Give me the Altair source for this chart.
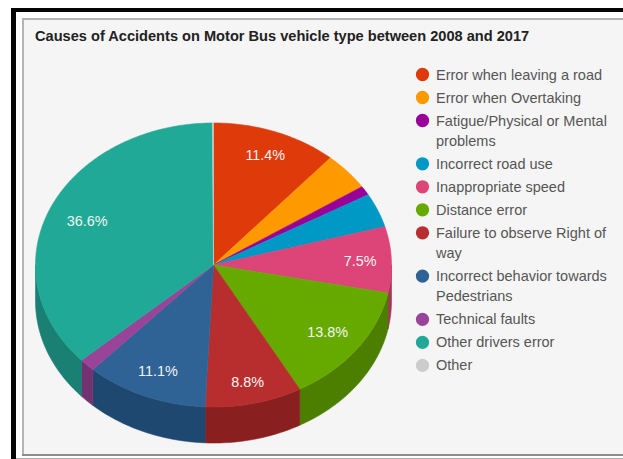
import numpy as np
import pandas as pd
import altair as alt

# Slice shares in percent, clockwise from twelve o'clock
causes = [
    "Error when leaving a road", "Error when Overtaking",
    "Fatigue/Physical or Mental problems", "Incorrect road use",
    "Inappropriate speed", "Distance error",
    "Failure to observe Right of way",
    "Incorrect behavior towards Pedestrians", "Technical faults",
    "Other drivers error", "Other",
]
shares = [11.4, 4.3, 1.05, 3.9, 7.5, 13.8, 8.8, 11.1, 1.45, 36.6, 0.1]
value_labels = ["11.4%", "", "", "", "7.5%", "13.8%", "8.8%", "11.1%", "", "36.6%", ""]
top_colors = ["#df3a0a", "#ff9900", "#990099", "#0099c6", "#dd4477", "#66aa00",
              "#b82e2e", "#2f6396", "#994499", "#20a996", "#cccccc"]
side_colors = ["#a52b0e", "#bf7300", "#730073", "#007394", "#a63359", "#4c7f00",
               "#8a1f1f", "#1f4870", "#733373", "#198073", "#999999"]
legend_lines = [
    ["Error when leaving a road"], ["Error when Overtaking"],
    ["Fatigue/Physical or Mental", "problems"], ["Incorrect road use"],
    ["Inappropriate speed"], ["Distance error"],
    ["Failure to observe Right of", "way"],
    ["Incorrect behavior towards", "Pedestrians"], ["Technical faults"],
    ["Other drivers error"], ["Other"],
]
title_text = "Causes of Accidents on Motor Bus vehicle type between 2008 and 2017"

W, H = 623, 459
CX, CY, RX, RY = 213.5, 265.0, 178.0, 142.0
DEPTH = 36.0 / RY          # pie thickness in unit-circle terms
# How far out each value label sits along its slice's mid-angle
LABEL_RADII = [0.83, 0, 0, 0, 0.825, 0.795, 0.845, 0.81, 0, 0.775, 0]
LEGEND_Y0, LINE_STEP, ROW_GAP = 74.5, 20.3, 23

# Unit-circle pie coordinates; the scales squash the circle into an ellipse
x_scale = alt.Scale(domain=[-CX / RX, (W - CX) / RX], range=[0, W], nice=False, zero=False)
y_scale = alt.Scale(domain=[CY / RY, (CY - H) / RY], range=[0, H], nice=False, zero=False)
X = alt.X("x:Q", scale=x_scale, axis=None)
Y = alt.Y("y:Q", scale=y_scale, axis=None)

edges = np.concatenate([[0], np.cumsum(shares)]) / sum(shares) * 2 * np.pi

top_rows, side_rows, label_rows = [], [], []
for i, cause in enumerate(causes):
    a0, a1 = edges[i], edges[i + 1]
    n = max(3, int((a1 - a0) * 60))
    angles = np.linspace(a0, a1, n)
    pts = [(0.0, 0.0)] + [(np.sin(a), np.cos(a)) for a in angles] + [(0.0, 0.0)]
    for k, (px, py) in enumerate(pts):
        top_rows.append({"slice": cause, "seq": k, "x": px, "y": py, "hex": top_colors[i]})

    # Rim is visible only on the front half of the pie
    f0, f1 = max(a0, np.pi / 2), min(a1, 3 * np.pi / 2)
    if f1 > f0:
        rim = np.linspace(f0, f1, max(3, int((f1 - f0) * 60)))
        outline = [(np.sin(a), np.cos(a)) for a in rim]
        outline += [(np.sin(a), np.cos(a) - DEPTH) for a in rim[::-1]]
        for k, (px, py) in enumerate(outline + outline[:1]):
            side_rows.append({"slice": cause, "seq": k, "x": px, "y": py, "hex": side_colors[i]})

    if value_labels[i]:
        mid = (a0 + a1) / 2
        label_rows.append({"text": value_labels[i],
                           "x": LABEL_RADII[i] * np.sin(mid),
                           "y": LABEL_RADII[i] * np.cos(mid)})

legend_dots, legend_text = [], []
row_y = LEGEND_Y0
for cause, lines, hex_color in zip(causes, legend_lines, top_colors):
    legend_dots.append({"slice": cause, "py": row_y, "hex": hex_color})
    for j, line in enumerate(lines):
        legend_text.append({"text": line, "py": row_y + j * LINE_STEP})
    row_y += ROW_GAP + (len(lines) - 1) * LINE_STEP


def wedges(rows):
    return alt.Chart(pd.DataFrame(rows)).mark_line(strokeWidth=0.6).encode(
        x=X, y=Y, order="seq:Q", detail="slice:N",
        color=alt.Color("hex:N", scale=None),
        fill=alt.Fill("hex:N", scale=None),
    )


def box(color, x0, x1, y0, y1):
    return alt.Chart(pd.DataFrame({"k": [0]})).mark_rect(color=color).encode(
        x=alt.value(x0), x2=alt.value(x1), y=alt.value(y0), y2=alt.value(y1))


frame = [
    box("#ffffff", 0, W, 0, H),
    box("#050505", 11, W, 8, 459),
    box("#ffffff", 16, W, 12, 459),
    box("#b4b4b4", 22, W, 18, 456),
    box("#f5f5f5", 24, W, 20, 454),
    box("#8c8c8c", 22, W, 454, 456),
    box("#a8a8a8", 16, W, 458, 459),
]

title = alt.Chart(pd.DataFrame({"t": [title_text]})).mark_text(
    align="left", baseline="middle", font="Liberation Sans", fontWeight="bold",
    fontSize=14.6, color="#222222", dy=1.5,
).encode(x=alt.value(35), y=alt.value(35), text="t:N")

value_text = alt.Chart(pd.DataFrame(label_rows)).mark_text(
    align="center", baseline="middle", font="Liberation Sans", fontSize=14.4,
    color="#f4f4f4", dy=1,
).encode(x=X, y=Y, text="text:N")

legend_y = alt.Y("py:Q", scale=alt.Scale(domain=[0, H], range=[0, H]), axis=None)

dots = alt.Chart(pd.DataFrame(legend_dots)).mark_point(
    shape="circle", filled=True, opacity=1, size=177,
).encode(x=alt.value(422.5), y=legend_y, color=alt.Color("hex:N", scale=None))

entries = alt.Chart(pd.DataFrame(legend_text)).mark_text(
    align="left", baseline="middle", font="Liberation Sans", fontSize=14.5,
    color="#555555", dy=1,
).encode(x=alt.value(436), y=legend_y, text="text:N")

pie_layers = alt.layer(wedges(side_rows), wedges(top_rows), value_text)
legend_layers = alt.layer(dots, entries)

chart = alt.layer(*frame, title, pie_layers, legend_layers).resolve_scale(
    x="shared", y="independent",
).properties(
    width=W, height=H, padding=0, autosize=alt.AutoSizeParams(type="none"),
    background="#ffffff",
).configure_view(stroke=None)

chart.save("out.html", embed_options={"renderer": "svg", "actions": False})
